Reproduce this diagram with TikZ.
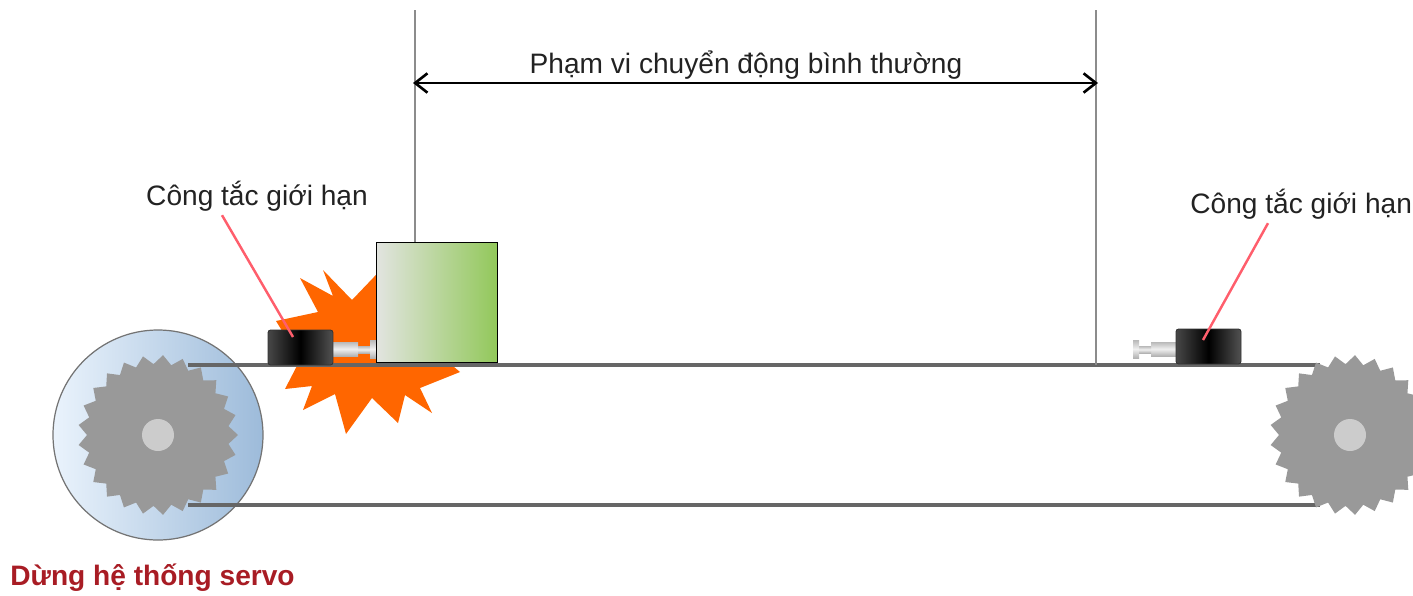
\documentclass[tikz,border=0pt]{standalone}
\usepackage{fontspec}
\setmainfont{Liberation Sans}
\usetikzlibrary{arrows.meta}
\usetikzlibrary{positioning}

\definecolor{beltgray}{HTML}{666666}
\definecolor{geargray}{HTML}{999999}
\definecolor{hubgray}{HTML}{CCCCCC}
\definecolor{wheelleft}{HTML}{EAF3FC}
\definecolor{wheelright}{HTML}{9DBBDA}
\definecolor{blastorange}{HTML}{FF6600}
\definecolor{pointred}{HTML}{FF5E6C}
\definecolor{stopred}{HTML}{A81C24}
\definecolor{cartleft}{HTML}{E2E4E0}
\definecolor{cartright}{HTML}{92C85A}
\definecolor{textgray}{HTML}{222222}

\tikzset{
  wheel/.style={draw=gray!90!black,line width=0.7pt,left color=wheelleft,right color=wheelright},
  gearbody/.style={fill=geargray},
  hubdisc/.style={fill=hubgray},
  belt/.style={draw=beltgray,line width=2.6pt},
  markline/.style={draw=gray!90,line width=1.2pt},
  rangearrow/.style={draw=black,line width=1.7pt,
    {Straight Barb[length=7pt,width=11pt,line width=1.5pt]}-{Straight Barb[length=7pt,width=11pt,line width=1.5pt]}},
  switchbox/.style={draw=black!80,line width=0.5pt,rounded corners=1.5pt,
    left color=black!72,right color=black!68,middle color=black,
    minimum width=1.3cm,minimum height=0.7cm,inner sep=0},
  plungerpin/.style={top color=gray!55,bottom color=gray!60,middle color=gray!12},
  carriage/.style={draw=black,line width=1.1pt,left color=cartleft,right color=cartright,
    minimum width=2.42cm,minimum height=2.4cm,inner sep=0},
  pointer/.style={draw=pointred,line width=1.4pt},
  lbltext/.style={text=textgray,inner sep=0},
  stoptext/.style={text=stopred,font=\fontsize{16}{19}\selectfont\bfseries,inner sep=0}
}

% toothed pulley: #1,#2 = centre
\newcommand\gear[2]{%
  \begin{scope}[shift={(#1,#2)}]
    \fill[gearbody] (0:80) \foreach \i in {1,...,24} {-- ({\i*14.4-7.2}:71) -- ({\i*14.4}:80)} -- (352.8:71) -- cycle;
    \fill[hubdisc] (0,0) circle (16);
  \end{scope}}

% switch plunger: #1 = x at switch face, #2 = 1 (right) or -1 (left)
\newcommand\plunger[2]{%
  \begin{scope}[shift={(#1,0)},xscale=#2]
    \shade[plungerpin] (0,342) rectangle (25,356);
    \shade[plungerpin] (25,346) rectangle (37,353);
    \shade[plungerpin] (37,340) rectangle (43,358);
  \end{scope}}

\begin{document}
\begin{tikzpicture}[x=0.02cm,y=-0.02cm,font=\fontsize{16}{19}\selectfont,node distance=0]

  \useasboundingbox (0,0) rectangle (1413,595);
  \clip (0,0) rectangle (1413,595);

  % drive wheel
  \draw[wheel] (158,435) circle (105);

  % blast at the left switch
  \fill[blastorange] (276,321) -- (318,312) -- (300,278) -- (333,296) -- (323,270) -- (352,300)
    -- (395,255) -- (410,330) -- (460,372) -- (420,388) -- (432,413) -- (405,395)
    -- (398,423) -- (372,398) -- (346,434) -- (335,394) -- (303,410) -- (312,386)
    -- (285,389) -- (300,360) -- cycle;

  % belt
  \draw[belt] (188,365) -- (1320,365);
  \draw[belt] (188,505) -- (1320,505);

  % pulleys
  \gear{158}{435}
  \gear{1350}{435}

  % normal range
  \coordinate (rangeL) at (413,83);
  \coordinate (rangeR) at (1098,83);
  \draw[markline] (415,10) -- (415,243);
  \draw[markline] (1096,10) -- (1096,365);
  \draw[rangearrow] (rangeL) -- (rangeR);
  \node[lbltext,anchor=base] (rangetext) at (746,73) {Phạm vi chuyển động bình thường};

  % limit switches
  \plunger{333}{1}
  \plunger{1176}{-1}
  \node[switchbox] (swL) at (300.5,347.5) {};
  \node[switchbox] (swR) at (1208.5,346.5) {};

  % carriage
  \node[carriage] (cart) at (437,302.5) {};

  % labels
  \node[lbltext,anchor=base] (lblL) at (257,205) {Công tắc giới hạn};
  \node[lbltext,anchor=base west] (lblR) at (1190,213) {Công tắc giới hạn};
  \draw[pointer] ([xshift=-0.7cm,yshift=-0.08cm]lblL.south) -- ([xshift=-0.15cm,yshift=0.21cm]swL.center);
  \draw[pointer] ([xshift=1.56cm,yshift=-0.08cm]lblR.south west) -- ([xshift=-0.11cm,yshift=0.13cm]swR.center);

  \node[stoptext,anchor=base west] (stop) at (10,585) {Dừng hệ thống servo};

\end{tikzpicture}
\end{document}
